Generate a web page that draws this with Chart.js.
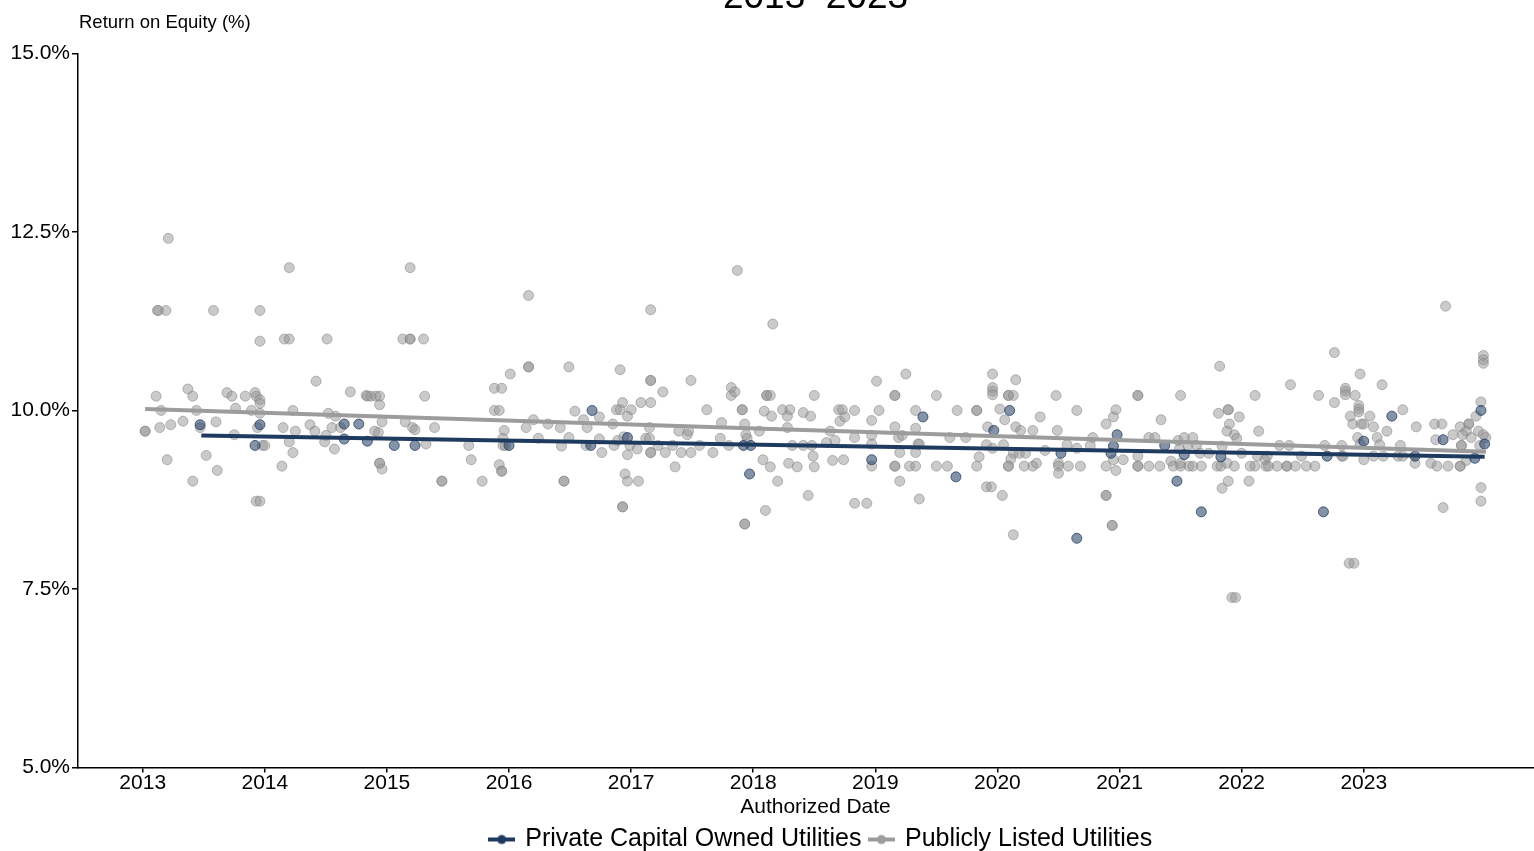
<!DOCTYPE html>
<html><head><meta charset="utf-8">
<script src="https://cdn.jsdelivr.net/npm/chart.js@4.4.1/dist/chart.umd.min.js"></script>
<style>
html,body{margin:0;padding:0;overflow:hidden;background:#fff;width:1534px;height:851px}
#wrap{position:absolute;left:0;top:-40px;width:1553px;height:902px}
</style></head>
<body><div id="wrap"><canvas id="c" width="1553" height="902"></canvas></div>
<script>
const titleText = '2013–2023';
const yAxisTitle = 'Return on Equity (%)';
const xAxisTitle = 'Authorized Date';
const seriesNames = ['Private Capital Owned Utilities', 'Publicly Listed Utilities'];
const yearTicks = [2013, 2014, 2015, 2016, 2017, 2018, 2019, 2020, 2021, 2022, 2023];
const roeTicks = [5, 7.5, 10, 12.5, 15];
const xRange = [2012.47, 2024.55];

// [authorized date (decimal year), ROE %]
const privateSeries = [
[2013.47,9.8],[2013.96,9.8],[2013.92,9.51],[2014.65,9.81],[2014.77,9.81],[2014.65,9.6],[2014.84,9.57],
[2015.06,9.51],[2015.23,9.51],[2016.00,9.51],[2016.67,9.51],[2016.68,10.0],[2016.97,9.62],[2017.92,9.51],
[2017.98,9.51],[2017.97,9.11],[2018.97,9.31],[2019.39,9.91],[2019.66,9.07],[2019.97,9.72],[2020.10,10.0],
[2020.52,9.4],[2020.65,8.21],[2020.98,9.66],[2020.95,9.5],[2020.93,9.4],[2021.37,9.51],[2021.53,9.38],
[2021.47,9.01],[2021.83,9.35],[2021.67,8.58],[2022.67,8.58],[2022.70,9.36],[2023.23,9.92],[2023.00,9.57],
[2023.65,9.59],[2023.96,10.0],[2023.99,9.53],[2023.42,9.36],[2023.91,9.33]
];

const publicSeries = [
[2013.21,12.41],[2013.12,11.4],[2013.13,11.4],[2013.19,11.4],[2013.58,11.4],[2013.96,11.4],[2014.20,12.0],
[2013.96,10.97],[2014.16,11.0],[2014.20,11.0],[2014.51,11.0],[2014.42,10.41],[2014.70,10.26],[2014.83,10.21],
[2013.11,10.2],[2013.37,10.3],[2013.41,10.2],[2013.69,10.25],[2013.73,10.2],[2013.84,10.2],[2013.92,10.25],
[2013.93,10.2],[2013.96,10.15],[2013.96,10.1],[2013.15,10.0],[2013.44,10.0],[2013.76,10.03],[2013.89,10.0],
[2013.96,9.96],[2014.23,10.0],[2014.52,9.96],[2014.58,9.92],[2013.02,9.71],[2013.02,9.71],[2013.14,9.76],
[2013.23,9.8],[2013.33,9.85],[2013.47,9.76],[2013.60,9.84],[2013.75,9.66],[2013.94,9.76],[2014.15,9.76],
[2014.25,9.71],[2014.37,9.8],[2014.41,9.71],[2014.50,9.65],[2014.55,9.76],[2014.62,9.76],[2013.98,9.51],
[2014.00,9.51],[2014.20,9.56],[2014.23,9.41],[2014.49,9.56],[2014.57,9.46],[2013.20,9.31],[2013.52,9.37],
[2013.61,9.16],[2013.41,9.01],[2014.14,9.22],[2013.93,8.73],[2013.96,8.73],[2014.84,10.2],
[2015.19,12.0],[2015.13,11.0],[2015.19,11.0],[2015.19,11.0],[2015.30,11.0],[2016.16,11.61],[2016.16,10.61],
[2016.16,10.61],[2016.49,10.61],[2016.01,10.51],[2015.88,10.31],[2015.94,10.31],[2014.87,10.2],[2014.91,10.2],
[2014.94,10.2],[2014.94,10.08],[2015.31,10.2],[2015.88,10.0],[2015.92,10.0],[2016.54,9.99],[2016.74,9.91],
[2016.61,9.87],[2016.20,9.87],[2014.96,9.84],[2015.15,9.84],[2015.21,9.76],[2015.23,9.73],[2015.39,9.76],
[2015.96,9.72],[2016.14,9.76],[2016.32,9.81],[2016.42,9.76],[2016.64,9.76],[2014.90,9.71],[2014.93,9.69],
[2016.24,9.61],[2016.49,9.62],[2016.74,9.6],[2015.95,9.61],[2015.32,9.53],[2015.67,9.51],[2015.95,9.51],
[2015.97,9.51],[2016.63,9.51],[2016.43,9.5],[2016.76,9.41],[2015.69,9.31],[2014.94,9.26],[2014.94,9.26],
[2014.96,9.18],[2015.92,9.24],[2015.94,9.15],[2015.94,9.15],[2015.45,9.01],[2015.45,9.01],[2015.78,9.01],
[2016.45,9.01],[2016.45,9.01],
[2017.87,11.96],[2017.16,11.41],[2018.16,11.21],[2016.91,10.57],[2017.16,10.42],[2017.16,10.42],[2017.49,10.42],
[2017.26,10.26],[2017.82,10.32],[2017.82,10.21],[2017.85,10.26],[2018.11,10.21],[2018.11,10.21],[2018.14,10.21],
[2018.50,10.21],[2016.93,10.11],[2017.08,10.11],[2017.16,10.11],[2016.88,10.01],[2016.91,10.01],[2017.00,10.01],
[2016.97,9.92],[2017.62,10.01],[2017.91,10.01],[2017.91,10.01],[2018.09,9.99],[2018.15,9.92],[2018.24,10.01],
[2018.30,10.01],[2018.28,9.92],[2018.41,9.97],[2018.47,9.92],[2018.70,10.01],[2018.73,10.01],[2018.71,9.85],
[2018.75,9.91],[2016.85,9.81],[2017.15,9.76],[2017.74,9.83],[2017.93,9.81],[2017.39,9.71],[2017.46,9.66],
[2017.47,9.71],[2018.05,9.71],[2018.28,9.76],[2018.63,9.71],[2016.86,9.51],[2016.89,9.58],[2016.94,9.63],
[2016.99,9.51],[2017.05,9.46],[2017.12,9.61],[2017.15,9.61],[2017.16,9.41],[2017.16,9.41],[2017.22,9.51],
[2017.28,9.41],[2017.34,9.51],[2017.41,9.41],[2017.49,9.41],[2017.56,9.51],[2017.67,9.41],[2017.73,9.61],
[2017.80,9.51],[2017.95,9.61],[2017.94,9.66],[2016.97,9.38],[2017.36,9.21],[2016.95,9.11],[2016.97,9.01],
[2017.06,9.01],[2016.93,8.65],[2016.93,8.65],[2017.93,8.41],[2017.93,8.41],[2018.10,8.6],[2018.08,9.31],
[2018.14,9.21],[2018.20,9.01],[2018.29,9.26],[2018.36,9.21],[2018.32,9.51],[2018.41,9.51],[2018.48,9.51],
[2018.49,9.36],[2018.50,9.21],[2018.45,8.81],[2018.60,9.55],[2018.67,9.58],[2018.65,9.3],[2018.74,9.31],
[2019.25,10.51],[2019.01,10.41],[2019.16,10.21],[2019.16,10.21],[2019.50,10.21],[2019.96,10.51],[2020.15,10.43],
[2019.96,10.32],[2019.96,10.27],[2019.96,10.22],[2020.09,10.21],[2020.09,10.21],[2020.13,10.21],[2020.48,10.21],
[2018.83,10.0],[2019.03,10.0],[2019.33,10.0],[2019.67,10.0],[2019.83,10.0],[2019.83,10.0],[2020.02,10.02],
[2020.65,10.0],[2020.35,9.91],[2020.06,9.87],[2018.97,9.86],[2019.16,9.77],[2019.33,9.75],[2019.92,9.77],
[2020.15,9.77],[2020.19,9.72],[2020.29,9.72],[2020.49,9.72],[2018.83,9.62],[2018.97,9.65],[2018.97,9.53],
[2019.19,9.62],[2019.22,9.65],[2019.35,9.53],[2019.36,9.53],[2019.61,9.62],[2019.74,9.62],[2019.91,9.52],
[2019.96,9.47],[2020.05,9.52],[2020.13,9.4],[2020.18,9.4],[2020.23,9.4],[2020.11,9.32],[2020.39,9.44],
[2020.57,9.52],[2020.65,9.47],[2018.97,9.22],[2019.20,9.41],[2019.33,9.41],[2019.16,9.22],[2019.16,9.22],
[2019.28,9.22],[2019.33,9.22],[2019.50,9.22],[2019.59,9.22],[2019.85,9.35],[2019.83,9.22],[2020.09,9.22],
[2020.09,9.22],[2020.22,9.22],[2020.29,9.22],[2020.32,9.26],[2020.50,9.26],[2020.50,9.22],[2020.50,9.12],
[2020.58,9.22],[2020.68,9.22],[2019.20,9.01],[2019.36,8.76],[2018.83,8.7],[2018.93,8.7],[2019.91,8.93],
[2019.95,8.93],[2020.04,8.81],[2020.13,8.26],
[2021.82,10.62],[2022.40,10.36],[2021.15,10.21],[2021.15,10.21],[2021.50,10.21],[2022.11,10.21],[2022.63,10.21],
[2020.97,10.01],[2020.95,9.91],[2020.89,9.81],[2021.34,9.87],[2021.81,9.96],[2021.89,10.01],[2021.89,10.01],
[2021.98,9.91],[2021.90,9.81],[2021.88,9.71],[2021.94,9.66],[2021.96,9.61],[2022.14,9.71],[2020.78,9.62],
[2020.76,9.51],[2021.24,9.62],[2021.29,9.62],[2021.48,9.58],[2021.53,9.62],[2021.60,9.62],[2021.56,9.51],
[2021.63,9.51],[2021.49,9.46],[2021.66,9.4],[2021.73,9.4],[2021.84,9.5],[2022.00,9.4],[2022.13,9.36],
[2022.21,9.36],[2022.19,9.31],[2022.31,9.51],[2022.39,9.51],[2022.49,9.36],[2022.68,9.51],[2020.95,9.31],
[2021.03,9.31],[2020.97,9.16],[2020.89,9.22],[2021.15,9.22],[2021.15,9.22],[2021.15,9.36],[2021.24,9.22],
[2021.33,9.22],[2021.42,9.29],[2021.44,9.22],[2021.50,9.22],[2021.50,9.26],[2021.57,9.22],[2021.60,9.22],
[2021.67,9.22],[2021.80,9.22],[2021.83,9.22],[2021.88,9.26],[2021.94,9.22],[2022.07,9.22],[2022.11,9.22],
[2022.20,9.22],[2022.22,9.22],[2022.29,9.22],[2022.37,9.22],[2022.37,9.22],[2022.44,9.22],[2022.53,9.22],
[2022.60,9.22],[2020.89,8.81],[2020.89,8.81],[2020.94,8.39],[2020.94,8.39],[2021.89,9.01],[2021.84,8.91],
[2022.06,9.01],[2021.92,7.38],[2021.95,7.38],
[2023.67,11.46],[2022.76,10.81],[2023.98,10.77],[2023.98,10.71],[2023.98,10.66],[2022.97,10.51],[2023.15,10.36],
[2022.85,10.31],[2022.85,10.27],[2022.85,10.22],[2022.93,10.21],[2022.76,10.11],[2022.96,10.07],[2022.96,10.02],
[2022.96,9.98],[2022.89,9.92],[2023.05,9.92],[2023.32,10.01],[2022.91,9.81],[2022.98,9.81],[2023.00,9.81],
[2023.08,9.77],[2023.19,9.71],[2023.43,9.77],[2023.58,9.81],[2023.64,9.81],[2023.92,9.92],[2023.96,10.12],
[2023.86,9.81],[2023.86,9.81],[2023.79,9.77],[2023.84,9.71],[2023.73,9.66],[2023.81,9.66],[2023.88,9.62],
[2023.94,9.71],[2023.98,9.66],[2024.00,9.62],[2022.95,9.62],[2022.97,9.53],[2023.11,9.62],[2023.13,9.52],
[2023.59,9.59],[2023.80,9.51],[2023.80,9.51],[2023.95,9.51],[2022.82,9.51],[2023.30,9.51],[2023.00,9.31],
[2022.82,9.36],[2022.83,9.36],[2023.08,9.36],[2023.16,9.36],[2023.28,9.36],[2023.32,9.36],[2023.42,9.26],
[2023.55,9.26],[2023.60,9.22],[2023.69,9.22],[2023.79,9.22],[2023.79,9.22],[2023.84,9.3],[2023.96,8.92],
[2023.96,8.73],[2023.65,8.64],[2022.88,7.86],[2022.92,7.86]
];

// fitted trend line end points
const privateTrend = [[2013.48, 9.65], [2023.99, 9.35]];
const publicTrend = [[2013.02, 10.02], [2024.00, 9.42]];

const privColor = '#1f3a5f';
const pubColor = '#9c9c9c';

Chart.defaults.font.family = '"Liberation Sans", Arial, Helvetica, sans-serif';
Chart.defaults.color = '#000';

const toXY = a => a.map(p => ({x: p[0], y: p[1]}));

function legendSymbol(color) {
  const c = document.createElement('canvas');
  c.width = 27; c.height = 12;
  const g = c.getContext('2d');
  g.strokeStyle = color; g.lineWidth = 4;
  g.beginPath(); g.moveTo(0, 6); g.lineTo(27, 6); g.stroke();
  g.fillStyle = color;
  g.beginPath(); g.arc(13.5, 6, 4.5, 0, Math.PI * 2); g.fill();
  return c;
}
const symbols = [legendSymbol(privColor), legendSymbol(pubColor)];

const yLabelPlugin = {
  id: 'yLabel',
  afterLayout(chart) {
    if (chart.legend) { chart.legend.left += 6; chart.legend.right += 6; }
  },
  afterDraw(chart) {
    const ctx = chart.ctx;
    ctx.save();
    ctx.font = '18.5px "Liberation Sans", Arial, sans-serif';
    ctx.fillStyle = '#000';
    ctx.textAlign = 'left';
    ctx.textBaseline = 'middle';
    ctx.fillText(yAxisTitle, chart.chartArea.left + 1, chart.chartArea.top - 30);
    ctx.restore();
  }
};

new Chart(document.getElementById('c'), {
  type: 'scatter',
  data: {
    datasets: [
      {label: seriesNames[0] + ' trend', type: 'line', data: toXY(privateTrend), borderColor: privColor,
       borderWidth: 4, pointRadius: 0, fill: false, order: 0},
      {label: seriesNames[1] + ' trend', type: 'line', data: toXY(publicTrend), borderColor: pubColor,
       borderWidth: 4, pointRadius: 0, fill: false, order: 1},
      {label: seriesNames[0], data: toXY(privateSeries), backgroundColor: 'rgba(31,58,95,0.55)',
       borderColor: 'rgba(31,58,95,0.75)', borderWidth: 1, pointRadius: 5, order: 2},
      {label: seriesNames[1], data: toXY(publicSeries), backgroundColor: 'rgba(150,150,150,0.5)',
       borderColor: 'rgba(125,125,125,0.5)', borderWidth: 1, pointRadius: 5, order: 3}
    ]
  },
  options: {
    responsive: false,
    animation: false,
    layout: {padding: 0, autoPadding: false},
    plugins: {
      tooltip: {enabled: false},
      title: {display: true, text: titleText, fullSize: false, color: '#000',
              font: {size: 37, weight: 'normal', lineHeight: 1.2}, padding: {top: 16, bottom: 33}},
      legend: {
        position: 'bottom', fullSize: false,
        labels: {
          usePointStyle: true, pointStyleWidth: 22, padding: 9, color: '#000',
          font: {size: 25},
          generateLabels: () => seriesNames.map((n, i) => ({
            text: n, pointStyle: symbols[i], fillStyle: i ? pubColor : privColor,
            strokeStyle: i ? pubColor : privColor, lineWidth: 0, hidden: false,
            datasetIndex: i + 2, fontColor: '#000'
          }))
        }
      }
    },
    scales: {
      x: {
        type: 'linear', min: xRange[0], max: xRange[1],
        afterBuildTicks: s => { s.ticks = yearTicks.map(v => ({value: v})); },
        afterFit: s => { s.height = 50.5; },
        ticks: {font: {size: 21}, padding: -2, maxRotation: 0, autoSkip: false, callback: v => String(v)},
        grid: {display: true, drawOnChartArea: false, drawTicks: true, tickLength: 5, color: '#000', lineWidth: 1.5},
        border: {display: true, color: '#000', width: 1.5},
        title: {display: true, text: xAxisTitle, color: '#000', font: {size: 21, lineHeight: 1}, padding: {top: 0, bottom: 0}}
      },
      y: {
        min: roeTicks[0], max: roeTicks[roeTicks.length - 1],
        afterBuildTicks: s => { s.ticks = roeTicks.map(v => ({value: v})); },
        afterFit: s => { s.width = 78; },
        ticks: {font: {size: 21}, padding: 2, callback: v => v.toFixed(1) + '%'},
        grid: {display: true, drawOnChartArea: false, drawTicks: true, tickLength: 6, color: '#000', lineWidth: 1.5},
        border: {display: true, color: '#000', width: 1.5}
      }
    }
  },
  plugins: [yLabelPlugin]
});
</script></body></html>
